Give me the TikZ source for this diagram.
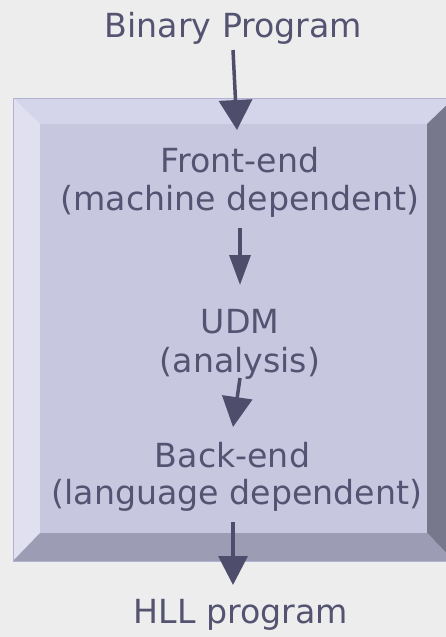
\documentclass[tikz,border=0pt]{standalone}
\usepackage{fontspec}
\setmainfont{DejaVu Sans}
\usetikzlibrary{arrows.meta,calc}
\definecolor{bg}{RGB}{237,237,237}
\definecolor{face}{RGB}{199,199,224}
\definecolor{bevtop}{RGB}{212,212,234}
\definecolor{bevleft}{RGB}{224,224,240}
\definecolor{bevright}{RGB}{120,120,140}
\definecolor{bevbot}{RGB}{156,156,180}
\definecolor{edge}{RGB}{178,178,210}
\definecolor{txt}{RGB}{84,84,114}
\definecolor{arr}{RGB}{78,78,108}
\begin{document}
\begin{tikzpicture}[x=1pt,y=-1pt,
  lbl/.style={font=\fontsize{33.2}{38}\selectfont, text=txt, anchor=base, inner sep=0pt},
  flow/.style={draw=arr, line width=3.5pt}]
\useasboundingbox (0,0) rectangle (446,637);
\fill[bg] (0,0) rectangle (446,637);
% bevelled box
\fill[bevtop] (13,98) -- (454,98) -- (427,124) -- (40,124) -- cycle;
\fill[bevleft] (13,98) -- (40,124) -- (40,533) -- (13,561) -- cycle;
\fill[bevright] (454,98) -- (454,561) -- (427,533) -- (427,124) -- cycle;
\fill[bevbot] (13,561) -- (40,533) -- (427,533) -- (454,561) -- cycle;
\fill[face] (40,124) rectangle (427,533);
\draw[edge, line width=0.8pt] (13,98) rectangle (454,561);
% labels
\node[lbl] (bin) at (233.5,37) {Binary Program};
\node[lbl] (fe1) at (240,172) {Front-end};
\node[lbl] (fe2) at (240,210) {(machine dependent)};
\node[lbl] (udm1) at (240,333) {UDM};
\node[lbl] (udm2) at (240,372) {(analysis)};
\node[lbl] (be1) at (232.5,467) {Back-end};
\node[lbl] (be2) at (237,504) {(language dependent)};
\node[lbl] (hll) at (241,623) {HLL program};
% connectors
\draw[flow, -{Triangle[length=30pt,width=33pt]}] ($(bin.base)+(-0.5,13)$) -- ($(fe1.base)+(-3,-42)$);
\draw[flow, -{Triangle[length=30pt,width=21pt]}] ($(fe2.base)+(0,18)$) -- ($(udm1.base)+(0,-48)$);
\draw[flow, -{Triangle[length=30pt,width=30pt]}] ($(udm2.base)+(0,6)$) -- ($(be1.base)+(0.5,-40)$);
\draw[flow, -{Triangle[length=29pt,width=29pt]}] ($(be2.base)+(-4,18)$) -- ($(hll.base)+(-8,-38)$);
\end{tikzpicture}
\end{document}
